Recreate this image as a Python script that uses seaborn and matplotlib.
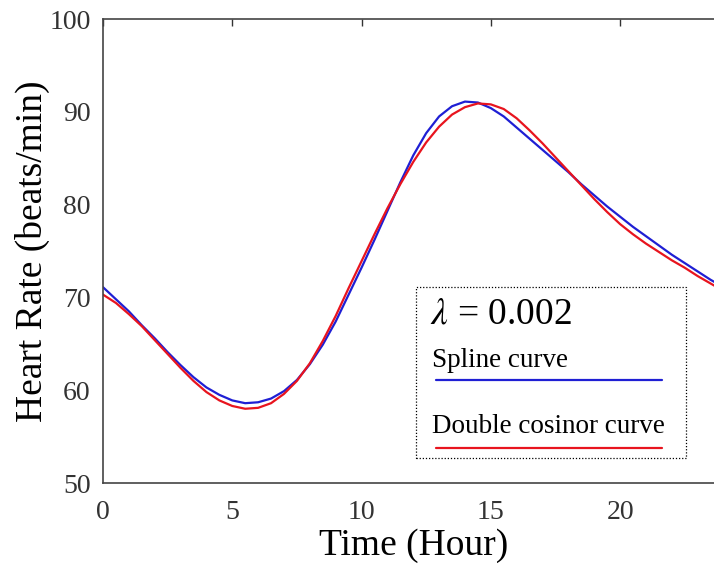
import numpy as np
import pandas as pd
import matplotlib
matplotlib.use("Agg")
import matplotlib.pyplot as plt
import seaborn as sns
from matplotlib.patches import Rectangle
from matplotlib.lines import Line2D

# ---- data ----
hours = [0, 0.5, 1, 1.5, 2, 2.5, 3, 3.5, 4, 4.5, 5, 5.5, 6, 6.5, 7, 7.5, 8, 8.5,
         9, 9.5, 10, 10.5, 11, 11.5, 12, 12.5, 13, 13.5, 14, 14.5, 15, 15.5, 16,
         16.5, 17, 17.5, 18, 18.5, 19, 19.5, 20, 20.5, 21, 21.5, 22, 22.5, 23,
         23.5, 24]
spline_hr = [71.1, 69.8, 68.5, 67.0, 65.6, 64.1, 62.7, 61.4, 60.3, 59.5, 58.9,
             58.6, 58.7, 59.1, 59.9, 61.1, 62.8, 64.9, 67.4, 70.3, 73.2, 76.2,
             79.3, 82.4, 85.3, 87.7, 89.5, 90.6, 91.1, 91.0, 90.4, 89.5, 88.3,
             87.1, 85.9, 84.7, 83.5, 82.2, 81.0, 79.8, 78.7, 77.6, 76.6, 75.6,
             74.6, 73.7, 72.8, 71.9, 71.1]
cosinor_hr = [70.3, 69.4, 68.2, 66.9, 65.4, 63.9, 62.4, 61.0, 59.8, 58.9, 58.3,
              58.0, 58.1, 58.6, 59.6, 61.0, 62.9, 65.3, 68.0, 71.0, 73.9, 76.8,
              79.6, 82.2, 84.6, 86.7, 88.4, 89.7, 90.5, 90.9, 90.8, 90.3, 89.3,
              88.0, 86.6, 85.1, 83.6, 82.1, 80.6, 79.2, 77.9, 76.8, 75.8, 74.9,
              74.0, 73.2, 72.3, 71.5, 70.7]
series_names = ["Spline curve", "Double cosinor curve"]
series_colors = ["#1f1fd4", "#e8141e"]
x_ticks = [0, 5, 10, 15, 20]
y_ticks = [50, 60, 70, 80, 90, 100]
lambda_text = r"$\lambda$ = 0.002"

df = pd.concat([
    pd.DataFrame({"Time": hours, "HR": spline_hr, "curve": series_names[0]}),
    pd.DataFrame({"Time": hours, "HR": cosinor_hr, "curve": series_names[1]}),
])

sns.set_style("white")
plt.rcParams["font.family"] = ["Liberation Serif", "DejaVu Serif"]
plt.rcParams["mathtext.fontset"] = "stix"

W, H = 714, 571
fig = plt.figure(figsize=(W / 100, H / 100), dpi=100)
ax_w = (723.5 - 103) / W
ax = fig.add_axes([103 / W, 1 - 483 / H, ax_w, (483 - 19) / H])

sns.lineplot(data=df, x="Time", y="HR", hue="curve", palette=series_colors,
             hue_order=series_names, linewidth=1.6, ax=ax, legend=False,
             estimator=None, sort=False)

ax.set_xlim(0, 24)
ax.set_ylim(50, 100)
ax.set_xticks(x_ticks)
ax.set_yticks(y_ticks)
ax.set_xlabel("Time (Hour)", fontsize=27, labelpad=3, color="black")
ax.set_ylabel("Heart Rate (beats/min)", fontsize=27, color="black")
ax.yaxis.set_label_coords((50 - 103) / (ax_w * W), 0.5)
ax.tick_params(axis="both", direction="in", length=5, width=1, labelsize=20,
               colors="#333333", labelcolor="#333333", top=True, right=True)
ax.tick_params(axis="x", pad=12)
ax.tick_params(axis="y", pad=9)
for s in ax.spines.values():
    s.set_color("#444444")
    s.set_linewidth(1.2)

# legend-like annotation box (figure pixel coords)
def fx(px):
    return px / W

def fy(py):
    return 1 - py / H

fig.patches.append(Rectangle((fx(416), fy(458)), fx(686) - fx(416), fy(287) - fy(458),
                             transform=fig.transFigure, fill=False,
                             edgecolor="black", linestyle=(0, (1, 1.5)), linewidth=0.9))
fig.text(fx(430), fy(323), lambda_text, fontsize=27, color="black", va="baseline")
fig.text(fx(432), fy(367), series_names[0], fontsize=19.5, color="black", va="baseline")
fig.lines.append(Line2D([fx(436), fx(662)], [fy(380), fy(380)], transform=fig.transFigure,
                        color=series_colors[0], linewidth=1.6))
fig.text(fx(432), fy(433), series_names[1], fontsize=19.5, color="black", va="baseline")
fig.lines.append(Line2D([fx(436), fx(662)], [fy(448), fy(448)], transform=fig.transFigure,
                        color=series_colors[1], linewidth=1.6))

fig.savefig("out.png", dpi=100)
